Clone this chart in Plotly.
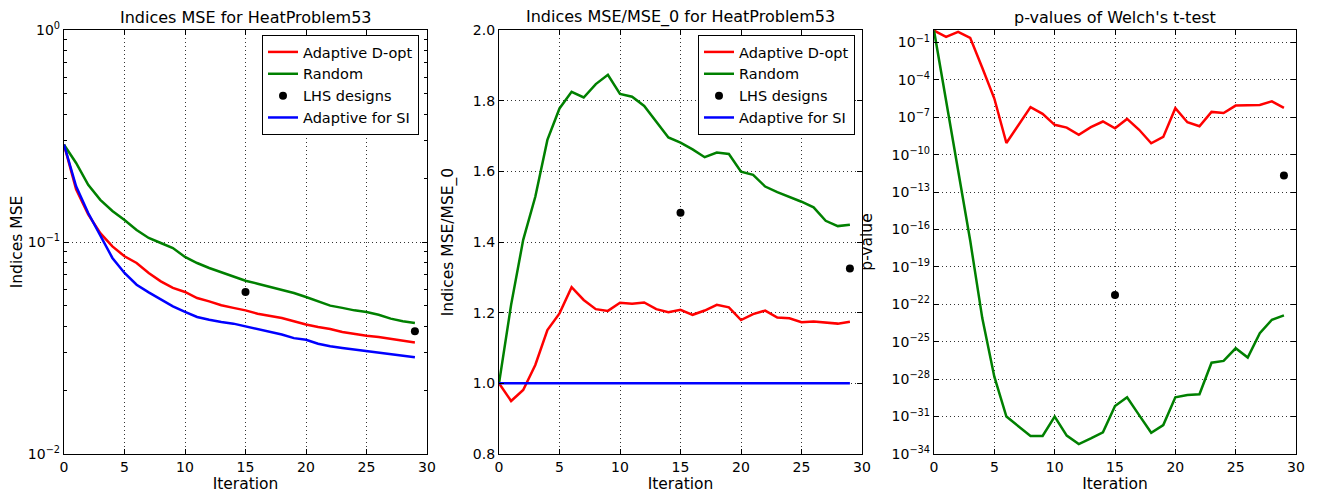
import plotly.graph_objects as go
from plotly.subplots import make_subplots

# iterations 0..29
iteration = list(range(30))
lhs_iteration = [15, 29]

# panel 1: indices MSE (log scale)
mse_dopt = [0.288, 0.177, 0.135, 0.110, 0.0954, 0.0856, 0.0796, 0.0714, 0.0652, 0.0607,
            0.0581, 0.0544, 0.0525, 0.0503, 0.0489, 0.0476, 0.0459, 0.0449, 0.0438, 0.0423,
            0.0408, 0.0397, 0.0389, 0.0376, 0.0368, 0.0361, 0.0356, 0.0350, 0.0344, 0.0336]
mse_random = [0.288, 0.236, 0.186, 0.158, 0.140, 0.127, 0.114, 0.1045, 0.0989, 0.0937,
              0.0850, 0.0796, 0.0754, 0.0719, 0.0684, 0.0657, 0.0636, 0.0614, 0.0596, 0.0575,
              0.0550, 0.0525, 0.0501, 0.0489, 0.0476, 0.0468, 0.0454, 0.0435, 0.0423, 0.0415]
mse_si = [0.288, 0.183, 0.137, 0.108, 0.0841, 0.0714, 0.0629, 0.0579, 0.0535, 0.0497,
          0.0468, 0.0443, 0.0430, 0.0419, 0.0412, 0.0400, 0.0390, 0.0379, 0.0366, 0.0352,
          0.0346, 0.0331, 0.0322, 0.0316, 0.0311, 0.0307, 0.0302, 0.0297, 0.0292, 0.0286]
mse_lhs = [0.0581, 0.0379]

# panel 2: MSE / MSE_0
ratio_dopt = [1.0, 0.950, 0.981, 1.052, 1.151, 1.198, 1.272, 1.236, 1.210, 1.205,
              1.228, 1.225, 1.229, 1.210, 1.201, 1.208, 1.194, 1.206, 1.222, 1.215,
              1.179, 1.196, 1.206, 1.186, 1.184, 1.173, 1.175, 1.173, 1.169, 1.174]
ratio_random = [1.0, 1.222, 1.406, 1.528, 1.689, 1.778, 1.825, 1.809, 1.847, 1.873,
                1.819, 1.811, 1.785, 1.741, 1.696, 1.681, 1.662, 1.640, 1.653, 1.649,
                1.599, 1.590, 1.557, 1.541, 1.528, 1.514, 1.498, 1.460, 1.445, 1.449]
ratio_si = [1.0] * 30
ratio_lhs = [1.483, 1.325]

# panel 3: p-values of Welch's t-test
pval_dopt = [0.9, 0.285, 0.72, 0.237, 9.3e-4, 3.2e-6, 8.7e-10, 2.2e-8, 6.5e-7, 1.9e-7,
             2.5e-8, 1.5e-8, 3.9e-9, 1.6e-8, 4.6e-8, 1.3e-8, 7.4e-8, 1.0e-8, 8.3e-10, 2.7e-9,
             5.4e-7, 4.0e-8, 1.9e-8, 2.7e-7, 2.2e-7, 8.7e-7, 9.3e-7, 9.8e-7, 1.9e-6, 5.6e-7]
pval_random = [0.9, 2.0e-6, 3.2e-12, 1.3e-17, 7.9e-24, 1.6e-28, 1.0e-31, 1.6e-32, 2.8e-33, 2.8e-33,
               1.0e-31, 3.0e-33, 6.3e-34, 1.8e-33, 5.5e-33, 7.1e-31, 3.5e-30, 1.3e-31, 5.1e-33, 2.1e-32,
               3.5e-30, 5.4e-30, 6.2e-30, 2.1e-27, 2.9e-27, 3.0e-26, 5.4e-27, 4.9e-25, 5.8e-24, 1.3e-23]
pval_lhs = [5.5e-22, 2.2e-12]

titles = ["Indices MSE for HeatProblem53", "Indices MSE/MSE_0 for HeatProblem53",
          "p-values of Welch's t-test"]
ytitles = ["Indices MSE", "Indices MSE/MSE_0", "p-value"]

RED, GREEN, BLUE = "#ff0000", "#008000", "#0000ff"
FONT = "DejaVu Sans"
LW = 2.5


def sup(e):
    return "10<sup>%s</sup>" % str(e).replace("-", "\u2212")


fig = make_subplots(rows=1, cols=3)

for col, (dopt, rnd, lhs, si) in enumerate(
    [(mse_dopt, mse_random, mse_lhs, mse_si),
     (ratio_dopt, ratio_random, ratio_lhs, ratio_si),
     (pval_dopt, pval_random, pval_lhs, None)], start=1):
    leg = "legend" if col == 1 else "legend2"
    show = col < 3
    fig.add_trace(go.Scatter(x=iteration, y=dopt, mode="lines", name="Adaptive D-opt",
                             line=dict(color=RED, width=LW), legend=leg, showlegend=show),
                  row=1, col=col)
    fig.add_trace(go.Scatter(x=iteration, y=rnd, mode="lines", name="Random",
                             line=dict(color=GREEN, width=LW), legend=leg, showlegend=show),
                  row=1, col=col)
    fig.add_trace(go.Scatter(x=lhs_iteration, y=lhs, mode="markers", name="LHS designs",
                             marker=dict(color="black", size=8), legend=leg, showlegend=show),
                  row=1, col=col)
    if si is not None:
        fig.add_trace(go.Scatter(x=iteration, y=si, mode="lines", name="Adaptive for SI",
                                 line=dict(color=BLUE, width=LW), legend=leg, showlegend=show),
                      row=1, col=col)

# the page body adds an 8px offset, so work in page pixels minus 8
OFF = 8
W, H = 1317 - OFF, 495 - OFF
ML, MT = 64 - OFF, 30 - OFF
MR = W - (1296 - OFF)
MB = H - (454 - OFF)
pw = W - ML - MR
ph = H - MT - MB
domains = [(64, 427), (499, 862), (934, 1296)]

axis_common = dict(
    showline=True, linecolor="black", linewidth=1.2, mirror="ticks",
    ticks="inside", ticklen=5, tickcolor="black",
    showgrid=True, gridcolor="#333333", gridwidth=1, griddash="1px,3px",
    zeroline=False, tickfont=dict(size=14, color="black"), automargin=False,
)

for i, (a, b) in enumerate(domains, start=1):
    fig.update_xaxes(axis_common, domain=[(a - 64) / pw, (b - 64) / pw], range=[0, 30],
                     dtick=5, title=dict(text="Iteration", font=dict(size=15.5, color="black"),
                                         standoff=2),
                     row=1, col=i)
    fig.update_yaxes(axis_common, title=dict(text=ytitles[i - 1],
                                             font=dict(size=15.5, color="black")),
                     row=1, col=i)
    fig.add_annotation(text=titles[i - 1], xref="paper", yref="paper",
                       x=((a + b) / 2 - 64) / pw, y=1, xanchor="center", yanchor="bottom",
                       yshift=1, showarrow=False, font=dict(size=16, color="black"))

minor_vals = [m * 10.0 ** e for e in (-2, -1) for m in range(2, 10)]
fig.update_yaxes(type="log", range=[-2, 0], tickvals=[0.01, 0.1, 1],
                 ticktext=[sup(-2), sup(-1), sup(0)],
                 minor=dict(tickmode="array", tickvals=minor_vals, ticks="inside",
                            ticklen=3, tickcolor="black", showgrid=False),
                 row=1, col=1)
fig.update_yaxes(range=[0.8, 2.0], dtick=0.2, tickformat=".1f", row=1, col=2)
p_exps = list(range(-34, 0, 3))
fig.update_yaxes(type="log", range=[-34, 0], tickvals=[10.0 ** e for e in p_exps],
                 ticktext=[sup(e) for e in p_exps], row=1, col=3)

legend_style = dict(
    xref="paper", yref="paper", xanchor="right", yanchor="top",
    bgcolor="white", bordercolor="black", borderwidth=1,
    font=dict(size=14.5, color="black", family=FONT), tracegroupgap=0,
)
fig.update_layout(
    width=W, height=H,
    margin=dict(l=ML, r=MR, t=MT, b=MB, autoexpand=False),
    plot_bgcolor="white", paper_bgcolor="white",
    font=dict(family=FONT, color="black"),
    legend=dict(legend_style, x=(419 - 64) / pw, y=(454 - 35) / ph),
    legend2=dict(legend_style, x=(855 - 64) / pw, y=(454 - 35) / ph),
)

fig.write_html("out.html")
